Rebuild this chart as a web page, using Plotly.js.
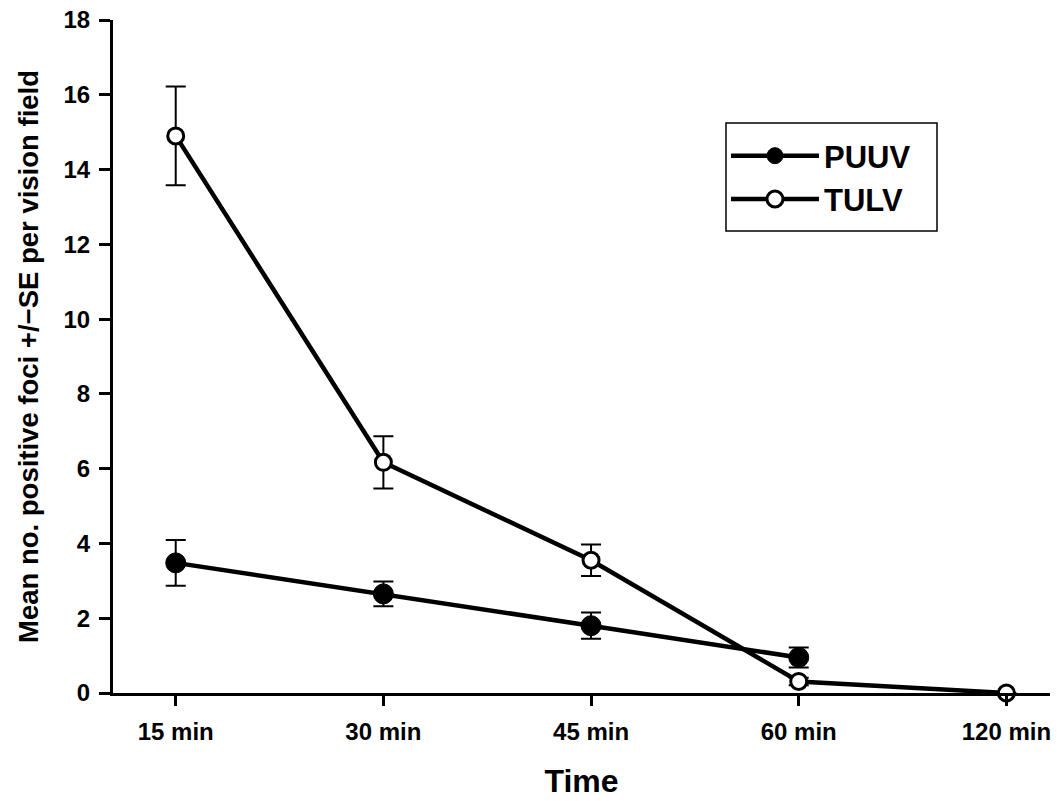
<!DOCTYPE html>
<html>
<head>
<meta charset="utf-8">
<script src="https://cdn.plot.ly/plotly-3.0.1.min.js"></script>
<style>
  html, body { margin: 0; padding: 0; background: #fff; }
  #chart { width: 1058px; height: 801px; }
</style>
</head>
<body>
<div id="chart"></div>
<script>
// Data
var timeLabels = ["15 min", "30 min", "45 min", "60 min", "120 min"];
var puuvMean = [3.48, 2.65, 1.80, 0.95, null];
var puuvSE   = [0.61, 0.33, 0.35, 0.27, null];
var tulvMean = [14.9, 6.17, 3.55, 0.31, 0.0];
var tulvSE   = [1.32, 0.70, 0.42, 0.10, 0.0];
var yTicks   = [0, 2, 4, 6, 8, 10, 12, 14, 16, 18];

var FONT = "Liberation Sans, Arial, sans-serif";

var errStyle = { type: "data", visible: true, thickness: 2, width: 10, color: "#000" };

var puuv = {
  x: timeLabels, y: puuvMean, name: "PUUV", type: "scatter", mode: "lines+markers",
  line: { color: "#000", width: 4.5 },
  marker: { symbol: "circle", size: 20, color: "#000", line: { color: "#000", width: 1 } },
  error_y: Object.assign({ array: puuvSE }, errStyle),
  cliponaxis: false
};
var tulv = {
  x: timeLabels, y: tulvMean, name: "TULV", type: "scatter", mode: "lines+markers",
  line: { color: "#000", width: 4.5 },
  marker: { symbol: "circle", size: 16, color: "#fff", line: { color: "#000", width: 3 } },
  error_y: Object.assign({ array: tulvSE }, errStyle),
  cliponaxis: false
};

var layout = {
  width: 1058, height: 801,
  margin: { l: 113, r: 8, t: 20, b: 108 },
  paper_bgcolor: "#fff", plot_bgcolor: "#fff",
  font: { family: FONT, color: "#000", size: 22, weight: 700 },
  showlegend: true,
  legend: {
    x: 0.6542, y: 0.838, xanchor: "left", yanchor: "top",
    borderwidth: 0, bgcolor: "rgba(0,0,0,0)",
    font: { family: FONT, size: 31, color: "#000", weight: 700 },
    itemwidth: 88
  },
  shapes: [{
    type: "rect", xref: "paper", yref: "paper", layer: "below",
    x0: 0.6542, x1: 0.8794, y0: 0.6865, y1: 0.8470,
    line: { color: "#000", width: 1.5 }, fillcolor: "rgba(0,0,0,0)"
  }],
  xaxis: {
    type: "category",
    categoryorder: "array", categoryarray: timeLabels,
    range: [-0.302, 4.21],
    showline: true, linecolor: "#000", linewidth: 3,
    ticks: "outside", ticklen: 10, tickwidth: 3, tickcolor: "#000",
    showgrid: false, zeroline: false,
    tickfont: { family: FONT, size: 24, color: "#000", weight: 700 },
    ticklabelstandoff: 5,
    title: { text: "Time", font: { family: FONT, size: 32, color: "#000", weight: 700 }, standoff: 26 },
    fixedrange: true
  },
  yaxis: {
    range: [0, 18],
    tickvals: yTicks,
    showline: true, linecolor: "#000", linewidth: 3,
    ticks: "outside", ticklen: 11, tickwidth: 3, tickcolor: "#000",
    showgrid: false, zeroline: false,
    tickfont: { family: FONT, size: 24, color: "#000", weight: 700 },
    ticklabelstandoff: 4,
    title: { text: "Mean no. positive foci +/\u2212SE per vision field", font: { family: FONT, size: 27.5, color: "#000", weight: 700 }, standoff: 17 },
    fixedrange: true
  }
};

Plotly.newPlot("chart", [puuv, tulv], layout, { staticPlot: true, displayModeBar: false });
</script>
</body>
</html>
